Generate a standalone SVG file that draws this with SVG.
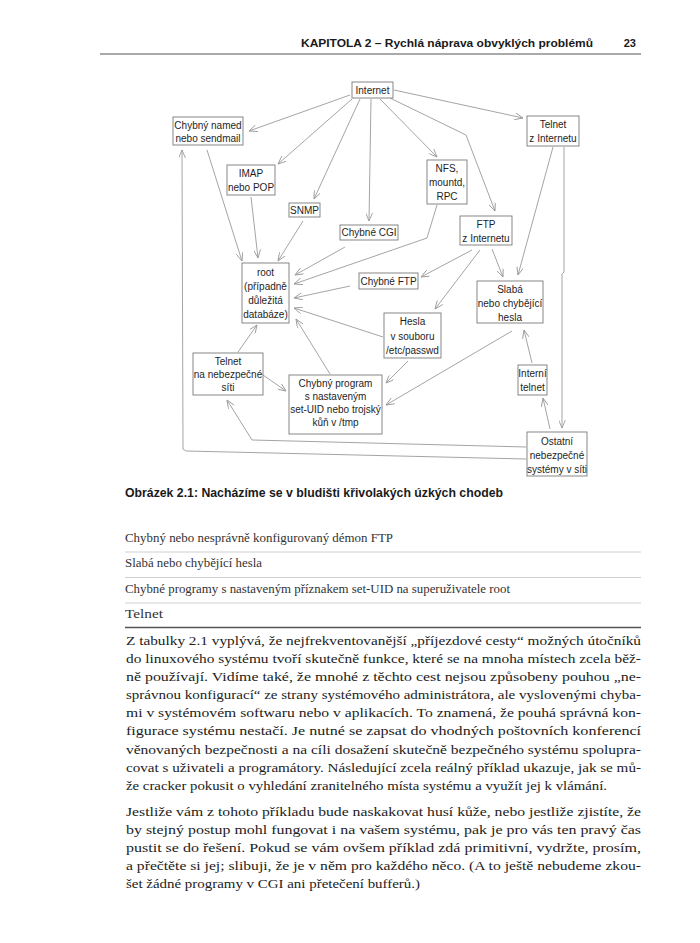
<svg xmlns="http://www.w3.org/2000/svg" width="700" height="943" viewBox="0 0 700 943">
<style>
.bg{fill:#ffffff}
.box{fill:#ffffff;stroke:#7a7a7a;stroke-width:0.9}
.lbl{font-family:"Liberation Sans",Arial,Helvetica,sans-serif;font-size:10px;fill:#1e1e1e;text-anchor:middle}
.con path{fill:none;stroke:#9a9a9a;stroke-width:0.9;marker-end:url(#arr)}
.hdr{font-family:"Liberation Sans",Arial,sans-serif;font-weight:bold;font-size:11px;fill:#1a1a1a}
.cap{font-family:"Liberation Sans Narrow","Liberation Sans",Arial,sans-serif;font-weight:bold;font-size:13px;fill:#1a1a1a}
.tbl{font-family:"Liberation Serif","Times New Roman",serif;font-size:12.5px;fill:#333}
.body{font-family:"Liberation Serif","Times New Roman",serif;font-size:13.5px;fill:#222}
.rule{stroke:#c4c4c4;stroke-width:0.8}
.heavy{stroke:#555;stroke-width:1.4}
</style>
<defs>
<marker id="arr" viewBox="0 0 10 8" refX="9.5" refY="4" markerWidth="9" markerHeight="7" markerUnits="userSpaceOnUse" orient="auto">
<path d="M0,0 L9.5,4 L0,8" fill="none" stroke="#9a9a9a" stroke-width="1"/>
</marker>
</defs>
<rect class="bg" x="0" y="0" width="700" height="943"/>

<!-- page header -->
<g id="header">
<text class="hdr" x="593" y="47" text-anchor="end" textLength="292" lengthAdjust="spacingAndGlyphs">KAPITOLA 2 – Rychlá náprava obvyklých problémů</text>
<text class="hdr" x="636" y="47" text-anchor="end">23</text>
<line x1="100" y1="54" x2="641" y2="54" stroke="#555" stroke-width="1"/>
</g>

<!-- connectors -->
<g id="connectors" class="con">
<path d="M350,95 L249,131"/>
<path d="M352,99 L278,164"/>
<path d="M360,99 L314,199"/>
<path d="M371,99 L369,221"/>
<path d="M380,99 L437,157"/>
<path d="M390,98 L466,135 L495,211"/>
<path d="M394,90 L523,118"/>
<path d="M553,147 L518,275"/>
<path d="M564,147 L564,272 L562,274 L562,428"/>
<path d="M207,150 L242,261"/>
<path d="M251,197 L258,258"/>
<path d="M303,221 L278,261"/>
<path d="M345,247 L295,275"/>
<path d="M437,205 L427,238 L294,284"/>
<path d="M472,250 L421,277"/>
<path d="M480,250 L435,309"/>
<path d="M492,249 L503,277"/>
<path d="M350,286 L294,298"/>
<path d="M383,337 L294,308"/>
<path d="M238,352 L257,325"/>
<path d="M330,374 L296,319"/>
<path d="M263,375 L286,391"/>
<path d="M408,361 L386,383"/>
<path d="M512,331 L386,405"/>
<path d="M532,363 L524,330"/>
<path d="M550,429 L543,398"/>
<path d="M526,447 L252,440 L227,400"/>
<path d="M526,459 L186,451 L183,449 L182,150"/>
</g>

<!-- nodes -->
<g id="n-internet"><rect class="box" x="352" y="82" width="41" height="16"/><text class="lbl" x="372.5" y="94">Internet</text></g>
<g id="n-named"><rect class="box" x="173" y="117" width="70" height="28"/><text class="lbl" x="208" y="129">Chybný named</text><text class="lbl" x="208" y="142">nebo sendmail</text></g>
<g id="n-imap"><rect class="box" x="227" y="165" width="48" height="30"/><text class="lbl" x="251" y="177">IMAP</text><text class="lbl" x="251" y="191">nebo POP</text></g>
<g id="n-snmp"><rect class="box" x="289" y="203" width="31" height="14"/><text class="lbl" x="304.5" y="214">SNMP</text></g>
<g id="n-cgi"><rect class="box" x="340" y="225" width="58" height="15"/><text class="lbl" x="369" y="236">Chybné CGI</text></g>
<g id="n-nfs"><rect class="box" x="427" y="160" width="40" height="44"/><text class="lbl" x="447" y="172">NFS,</text><text class="lbl" x="447" y="186">mountd,</text><text class="lbl" x="447" y="200">RPC</text></g>
<g id="n-telnet-inet"><rect class="box" x="527" y="116" width="52" height="30"/><text class="lbl" x="553" y="128">Telnet</text><text class="lbl" x="553" y="142">z Internetu</text></g>
<g id="n-ftp-inet"><rect class="box" x="460" y="216" width="52" height="29"/><text class="lbl" x="486" y="228">FTP</text><text class="lbl" x="486" y="242">z Internetu</text></g>
<g id="n-root"><rect class="box" x="242" y="263" width="47" height="60"/><text class="lbl" x="265.5" y="276">root</text><text class="lbl" x="265.5" y="290">(případně</text><text class="lbl" x="265.5" y="304">důležitá</text><text class="lbl" x="265.5" y="318">databáze)</text></g>
<g id="n-ftp-bad"><rect class="box" x="359" y="273" width="59" height="16"/><text class="lbl" x="388.5" y="285">Chybné FTP</text></g>
<g id="n-weak"><rect class="box" x="477" y="281" width="66" height="42"/><text class="lbl" x="510" y="293">Slabá</text><text class="lbl" x="510" y="307">nebo chybějící</text><text class="lbl" x="510" y="321">hesla</text></g>
<g id="n-passwd"><rect class="box" x="384" y="313" width="57" height="45"/><text class="lbl" x="412.5" y="325">Hesla</text><text class="lbl" x="412.5" y="339.5">v souboru</text><text class="lbl" x="412.5" y="354">/etc/passwd</text></g>
<g id="n-telnet-net"><rect class="box" x="193" y="353" width="70" height="42"/><text class="lbl" x="228" y="365">Telnet</text><text class="lbl" x="228" y="378">na nebezpečné</text><text class="lbl" x="228" y="391">síti</text></g>
<g id="n-program"><rect class="box" x="289" y="375" width="93" height="59"/><text class="lbl" x="335.5" y="387">Chybný program</text><text class="lbl" x="335.5" y="400">s nastaveným</text><text class="lbl" x="335.5" y="413">set-UID nebo trojský</text><text class="lbl" x="335.5" y="426">kůň v /tmp</text></g>
<g id="n-telnet-int"><rect class="box" x="518" y="365" width="29" height="30"/><text class="lbl" x="532.5" y="377">Interní</text><text class="lbl" x="532.5" y="391">telnet</text></g>
<g id="n-others"><rect class="box" x="527" y="432" width="60" height="44"/><text class="lbl" x="557" y="445">Ostatní</text><text class="lbl" x="557" y="459">nebezpečné</text><text class="lbl" x="557" y="473">systémy v síti</text></g>

<!-- caption -->
<text class="cap" x="125" y="497" textLength="378" lengthAdjust="spacingAndGlyphs">Obrázek 2.1: Nacházíme se v bludišti křivolakých úzkých chodeb</text>

<!-- table -->
<g id="table">
<text class="tbl" x="125" y="542" textLength="268" lengthAdjust="spacingAndGlyphs">Chybný nebo nesprávně konfigurovaný démon FTP</text>
<line class="rule" x1="125" y1="552" x2="641" y2="552"/>
<text class="tbl" x="125" y="567" textLength="137" lengthAdjust="spacingAndGlyphs">Slabá nebo chybějící hesla</text>
<line class="rule" x1="125" y1="577.5" x2="641" y2="577.5"/>
<text class="tbl" x="125" y="592.5" textLength="385" lengthAdjust="spacingAndGlyphs">Chybné programy s nastaveným příznakem set-UID na superuživatele root</text>
<line class="rule" x1="125" y1="603" x2="641" y2="603"/>
<text class="tbl" x="125" y="618" font-size="13.5" textLength="38" lengthAdjust="spacingAndGlyphs">Telnet</text>
<line class="heavy" x1="125" y1="627.5" x2="641" y2="627.5"/>
</g>

<!-- body text -->
<g id="body">
<text class="body" x="126" y="645" textLength="515" lengthAdjust="spacingAndGlyphs">Z tabulky 2.1 vyplývá, že nejfrekventovanější „příjezdové cesty“ možných útočníků</text>
<text class="body" x="126" y="663.1" textLength="515" lengthAdjust="spacingAndGlyphs">do linuxového systému tvoří skutečně funkce, které se na mnoha místech zcela běž-</text>
<text class="body" x="126" y="681.2" textLength="515" lengthAdjust="spacingAndGlyphs">ně používají. Vidíme také, že mnohé z těchto cest nejsou způsobeny pouhou „ne-</text>
<text class="body" x="126" y="699.2" textLength="515" lengthAdjust="spacingAndGlyphs">správnou konfigurací“ ze strany systémového administrátora, ale vyslovenými chyba-</text>
<text class="body" x="126" y="717.3" textLength="515" lengthAdjust="spacingAndGlyphs">mi v systémovém softwaru nebo v aplikacích. To znamená, že pouhá správná kon-</text>
<text class="body" x="126" y="735.4" textLength="515" lengthAdjust="spacingAndGlyphs">figurace systému nestačí. Je nutné se zapsat do vhodných poštovních konferencí</text>
<text class="body" x="126" y="753.5" textLength="515" lengthAdjust="spacingAndGlyphs">věnovaných bezpečnosti a na cíli dosažení skutečně bezpečného systému spolupra-</text>
<text class="body" x="126" y="771.6" textLength="515" lengthAdjust="spacingAndGlyphs">covat s uživateli a programátory. Následující zcela reálný příklad ukazuje, jak se mů-</text>
<text class="body" x="126" y="789.6" textLength="481" lengthAdjust="spacingAndGlyphs">že cracker pokusit o vyhledání zranitelného místa systému a využít jej k vlámání.</text>
<text class="body" x="126" y="815.7" textLength="515" lengthAdjust="spacingAndGlyphs">Jestliže vám z tohoto příkladu bude naskakovat husí kůže, nebo jestliže zjistíte, že</text>
<text class="body" x="126" y="833.8" textLength="515" lengthAdjust="spacingAndGlyphs">by stejný postup mohl fungovat i na vašem systému, pak je pro vás ten pravý čas</text>
<text class="body" x="126" y="851.9" textLength="515" lengthAdjust="spacingAndGlyphs">pustit se do řešení. Pokud se vám ovšem příklad zdá primitivní, vydržte, prosím,</text>
<text class="body" x="126" y="870" textLength="515" lengthAdjust="spacingAndGlyphs">a přečtěte si jej; slibuji, že je v něm pro každého něco. (A to ještě nebudeme zkou-</text>
<text class="body" x="126" y="888" textLength="294" lengthAdjust="spacingAndGlyphs">šet žádné programy v CGI ani přetečení bufferů.)</text>
</g>
</svg>
